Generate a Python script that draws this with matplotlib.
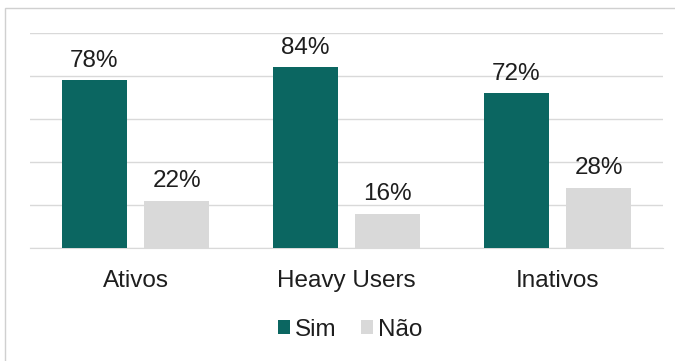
import numpy as np
import matplotlib.pyplot as plt
from matplotlib.patches import Rectangle

# survey answers per user group (%)
grupos = ["Ativos", "Heavy Users", "Inativos"]
sim = [78, 84, 72]
nao = [22, 16, 28]

cor_sim = "#0b6661"
cor_nao = "#d9d9d9"

plt.rcParams['font.family'] = ['Liberation Sans', 'DejaVu Sans']
fs = 17.5

fig = plt.figure(figsize=(6.75, 3.61), dpi=100)
ax = fig.add_axes([30 / 675, 1 - 248 / 361, 633 / 675, 215 / 361])

# frame around the chart area
fig.patches.append(Rectangle((5 / 675, -0.05), 1.0, 1 - 8 / 361 + 0.05,
                             transform=fig.transFigure, fill=False,
                             edgecolor="#d0d0d0", linewidth=1.0))

x = np.arange(len(grupos))
w = 0.31
b1 = ax.bar(x - 0.195, sim, w, color=cor_sim, label="Sim", zorder=3)
b2 = ax.bar(x + 0.195, nao, w, color=cor_nao, label="Não", zorder=3)

for bars in (b1, b2):
    for b in bars:
        ax.annotate(f"{b.get_height():.0f}%",
                    (b.get_x() + b.get_width() / 2, b.get_height()),
                    xytext=(0, 6), textcoords="offset points",
                    ha="center", va="bottom", fontsize=fs, color="#1e1e1e")

ax.set_ylim(0, 100)
ax.set_xlim(-0.5, 2.5)
ax.set_yticks(np.arange(0, 101, 20))
ax.yaxis.grid(True, color="#d9d9d9", linewidth=1.0, zorder=0)
ax.set_yticklabels([])
ax.tick_params(axis="y", length=0)
ax.tick_params(axis="x", length=0, pad=16, labelsize=fs, labelcolor="#1e1e1e")
ax.set_xticks(x)
ax.set_xticklabels(grupos)
for s in ("top", "right", "left"):
    ax.spines[s].set_visible(False)
ax.spines["bottom"].set_color("#d9d9d9")

fig.legend(loc="center", bbox_to_anchor=(350 / 675, 1 - 330 / 361), ncol=2,
           frameon=False, fontsize=fs, handlelength=0.5, handleheight=0.5,
           handletextpad=0.2, columnspacing=1.0, labelcolor="#1e1e1e")

fig.savefig("out.png", dpi=100)
